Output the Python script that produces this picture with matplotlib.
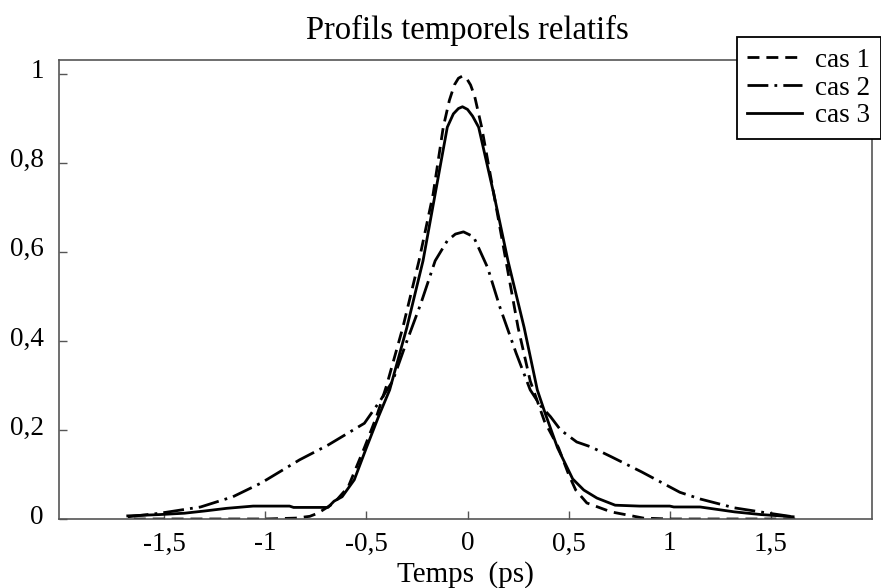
import matplotlib
matplotlib.use('Agg')
import matplotlib.pyplot as plt
import matplotlib.transforms as mtrans

plt.rcParams['font.family'] = ['Liberation Serif', 'DejaVu Serif']

# cas 1 (tirets)
x1 = [-1.65, -1.4, -1.2, -1.0, -0.85, -0.78, -0.74, -0.66, -0.59, -0.51, -0.45, -0.40, -0.32,
      -0.24, -0.17, -0.12, -0.09, -0.065, -0.045, -0.025, -0.005, 0.015, 0.035, 0.07, 0.13,
      0.19, 0.25, 0.31, 0.38, 0.45, 0.50, 0.535, 0.59, 0.71, 0.87, 1.0, 1.2, 1.4, 1.63]
y1 = [0, 0, 0, 0, 0.002, 0.006, 0.013, 0.036, 0.072, 0.16, 0.23, 0.30, 0.43,
      0.58, 0.73, 0.88, 0.94, 0.975, 0.99, 0.995, 0.99, 0.975, 0.95, 0.88, 0.73,
      0.58, 0.43, 0.31, 0.22, 0.16, 0.10, 0.065, 0.036, 0.016, 0.002, 0, 0, 0, 0]

# cas 2 (tiret-point)
x2 = [-1.68, -1.52, -1.32, -1.16, -1.02, -0.83, -0.69, -0.51, -0.43, -0.37, -0.31, -0.23,
      -0.16, -0.10, -0.06, -0.02, 0.03, 0.10, 0.16, 0.24, 0.31, 0.36, 0.41, 0.46, 0.54, 0.61,
      0.71, 0.86, 1.05, 1.15, 1.32, 1.49, 1.61]
y2 = [0.005, 0.013, 0.027, 0.05, 0.081, 0.133, 0.166, 0.215, 0.267, 0.31, 0.387, 0.485,
      0.58, 0.625, 0.64, 0.645, 0.634, 0.564, 0.476, 0.373, 0.29, 0.255, 0.23, 0.20, 0.173,
      0.162, 0.14, 0.106, 0.06, 0.045, 0.025, 0.013, 0.005]

# cas 3 (trait plein)
x3 = [-1.68, -1.52, -1.40, -1.30, -1.19, -1.06, -0.95, -0.88, -0.86, -0.69, -0.66, -0.62,
      -0.56, -0.50, -0.44, -0.385, -0.30, -0.22, -0.16, -0.10, -0.07, -0.045, -0.025, 0.0,
      0.025, 0.055, 0.13, 0.20, 0.28, 0.345, 0.385, 0.445, 0.52, 0.575, 0.64, 0.73, 0.85,
      1.0, 1.02, 1.15, 1.32, 1.45, 1.61]
y3 = [0.007, 0.01, 0.013, 0.018, 0.024, 0.029, 0.029, 0.029, 0.026, 0.026, 0.04, 0.05,
      0.088, 0.16, 0.23, 0.29, 0.43, 0.58, 0.73, 0.88, 0.91, 0.922, 0.926, 0.92,
      0.905, 0.88, 0.73, 0.58, 0.43, 0.29, 0.236, 0.16, 0.09, 0.065, 0.047, 0.031, 0.029,
      0.029, 0.027, 0.027, 0.016, 0.01, 0.005]

xticks = [-1.5, -1.0, -0.5, 0, 0.5, 1.0, 1.5]
xticklabels = ['-1,5', '-1', '-0,5', '0', '0,5', '1', '1,5']
yticks = [0, 0.2, 0.4, 0.6, 0.8, 1.0]
yticklabels = ['0', '0,2', '0,4', '0,6', '0,8', '1']

fig = plt.figure(figsize=(8.81, 5.88), dpi=100)
ax = fig.add_axes([59 / 881, 1 - 519 / 588, (872 - 59) / 881, (519 - 60) / 588])

ax.plot(x1, y1, color='black', lw=2, dashes=(4.3, 2.5), label='cas 1')
ax.plot(x2, y2, color='black', lw=2, dashes=(7.5, 2.2, 1, 2.2), label='cas 2')
ax.plot(x3, y3, color='black', lw=2, label='cas 3')

ax.set_xlim(-2.02, 2.0)
ax.set_ylim(0, 1.031)
ax.set_xticks(xticks)
ax.set_xticklabels(xticklabels)
ax.set_yticks(yticks)
ax.set_yticklabels(yticklabels)
ax.tick_params(direction='in', length=5.5, width=1, color='#555555', labelsize=19.5)
ax.tick_params(axis='y', pad=11)
ax.tick_params(axis='x', pad=9)
for sp in ax.spines.values():
    sp.set_color('#555555')
    sp.set_linewidth(1.2)

# labels y un peu au-dessus des graduations
off = mtrans.ScaledTranslation(0, 5 / 100, fig.dpi_scale_trans)
for lab in ax.get_yticklabels():
    lab.set_transform(lab.get_transform() + off)

ax.set_xlabel('Temps  (ps)', fontsize=21, labelpad=3)
fig.text(467 / 881, 1 - 30 / 588, 'Profils temporels relatifs', fontsize=23.5,
         ha='center', va='center')

leg = ax.legend(loc='upper right', bbox_to_anchor=(1.0, 1 - 37 / 588),
                bbox_transform=fig.transFigure, fontsize=19.5, frameon=True,
                fancybox=False, handlelength=2.0, handletextpad=0.5,
                labelspacing=0.1, borderpad=0.4, borderaxespad=0)
leg.get_frame().set_edgecolor('black')
leg.get_frame().set_linewidth(1.3)
leg.get_frame().set_alpha(1)

fig.savefig('out.png', dpi=100)
